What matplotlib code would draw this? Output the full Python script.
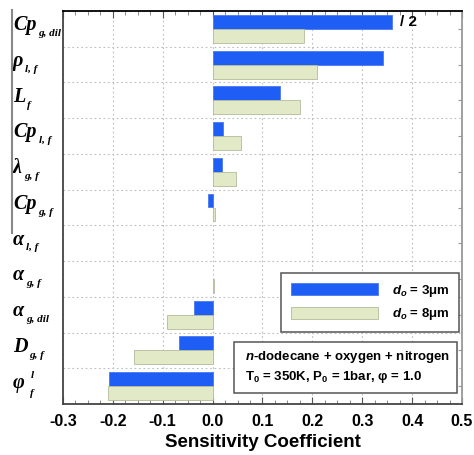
import matplotlib.pyplot as plt
import numpy as np
from matplotlib.lines import Line2D
from matplotlib.patches import Rectangle
import matplotlib.transforms as mtransforms

plt.rcParams['font.family'] = ['Liberation Sans', 'DejaVu Sans']
plt.rcParams['font.weight'] = 'bold'
plt.rcParams['mathtext.fontset'] = 'custom'
plt.rcParams['mathtext.rm'] = 'Liberation Sans:bold'
plt.rcParams['mathtext.it'] = 'Liberation Sans:italic:bold'
plt.rcParams['mathtext.bf'] = 'Liberation Sans:bold'

# parameter symbol, subscript, superscript
symbols = ['Cp', 'ρ', 'L', 'Cp', 'λ', 'Cp', 'α', 'α', 'α', 'D', 'φ']
subscripts = ['g, dil', 'l, f', 'f', 'l, f', 'g, f', 'g, f',
              'l, f', 'g, f', 'g, dil', 'g, f', 'f']
superscripts = ['', '', '', '', '', '', '', '', '', '', 'l']

# sensitivity coefficients (first blue bar is drawn halved)
sens_3um = [0.359, 0.341, 0.136, 0.021, 0.019, -0.009,
            0.0, 0.0, -0.038, -0.068, -0.208]
sens_8um = [0.183, 0.209, 0.175, 0.057, 0.047, 0.005,
            0.0, 0.002, -0.092, -0.158, -0.210]

blue = '#1f5ef5'
green = '#e1e9c6'

fig = plt.figure(figsize=(4.74, 4.55), dpi=100)
ax = fig.add_axes([63 / 474, 51 / 455, 399 / 474, 393 / 455])

y = np.arange(len(symbols))
h = 0.39
b1 = ax.barh(y - 0.195, sens_3um, height=h, color=blue,
             edgecolor='#4a7af0', linewidth=0.6, zorder=3,
             label=r'$d_o$ = 3μm')
b2 = ax.barh(y + 0.195, sens_8um, height=h, color=green,
             edgecolor='#b4bb9a', linewidth=0.6, zorder=3,
             label=r'$d_o$ = 8μm')
# no outline for bars of zero length
for bars, vals in ((b1, sens_3um), (b2, sens_8um)):
    for patch, v in zip(bars.patches, vals):
        if v == 0:
            patch.set_linewidth(0)

ax.set_xlim(-0.3, 0.5)
ax.set_ylim(len(symbols) - 0.5, -0.5)

ax.set_xticks(np.arange(-0.3, 0.51, 0.1))
ax.set_xticklabels(['%.1f' % v for v in np.arange(-0.3, 0.51, 0.1)])
ax.set_xticks(np.arange(-0.3, 0.501, 0.025), minor=True)
ax.tick_params(axis='x', which='both', direction='in', top=True,
               labelsize=11.5, pad=7)
ax.tick_params(axis='x', which='major', length=5, width=0.8, color='#555555')
ax.tick_params(axis='x', which='minor', length=3, width=0.6, color='#777777')

ax.set_yticks(y)
ax.set_yticks(np.arange(-0.5, len(symbols), 1.0), minor=True)
ax.tick_params(axis='y', which='major', direction='in', left=False,
               right=True, labelleft=False, length=3, color='#999999')
ax.tick_params(axis='y', which='minor', left=False, right=False)

grid_kw = dict(color='#bdbdbd', linestyle=(0, (1.5, 2.5)), linewidth=0.8)
ax.grid(axis='x', which='major', **grid_kw)
ax.grid(axis='y', which='minor', **grid_kw)
ax.set_axisbelow(True)

ax.spines['top'].set_color('black')
ax.spines['left'].set_color('#444444')
ax.spines['bottom'].set_color('#444444')
ax.spines['right'].set_color('#999999')
for s in ax.spines.values():
    s.set_linewidth(1.3)

ax.set_xlabel('Sensitivity Coefficient', fontsize=13.5, fontweight='bold',
              labelpad=4)

# "/ 2" mark next to the halved bar
ax.annotate('/ 2', xy=(sens_3um[0], y[0] - 0.195), xytext=(6, 0),
            textcoords='offset points', va='center', ha='left',
            fontsize=11, fontweight='bold')

# row labels: serif bold italic symbols with sub/superscripts
trans = mtransforms.blended_transform_factory(fig.transFigure, ax.transData)
serif = dict(family=['Liberation Serif', 'DejaVu Serif'], style='italic',
             weight='bold')
for i, (sym, sub, sup) in enumerate(zip(symbols, subscripts, superscripts)):
    main = ax.text(13 / 474, i - 0.1, sym, transform=trans, fontsize=14.5,
                   ha='left', va='center', **serif)
    if sup:
        ax.annotate(sup, xy=(1, 0.5), xycoords=main, xytext=(4, 5),
                    textcoords='offset points', fontsize=8,
                    ha='left', va='center', **serif)
        ax.annotate(sub, xy=(1, 0.5), xycoords=main, xytext=(4, -8),
                    textcoords='offset points', fontsize=8,
                    ha='left', va='center', **serif)
    else:
        ax.annotate(sub, xy=(1, 0.5), xycoords=main, xytext=(1.5, -6),
                    textcoords='offset points', fontsize=8,
                    ha='left', va='center', **serif)

leg = ax.legend(handles=[b1, b2], loc='upper right',
                bbox_to_anchor=(459 / 474, (455 - 273) / 455),
                bbox_transform=fig.transFigure, borderaxespad=0,
                fontsize=9.5, handlelength=6.6, handleheight=1.0,
                handletextpad=1.0, labelspacing=0.55, borderpad=0.75,
                fancybox=False, framealpha=1, edgecolor='#555555')
leg.get_frame().set_linewidth(1.1)

# operating conditions box
box = Rectangle((234 / 474, (455 - 393) / 455), 223 / 474, 51 / 455,
                transform=fig.transFigure, facecolor='white',
                edgecolor='#555555', linewidth=1.1, zorder=5)
fig.add_artist(box)
fig.text(245 / 474, (455 - 357) / 455,
         r'$n$-dodecane + oxygen + nitrogen', fontsize=9.5,
         fontweight='bold', va='center', ha='left', zorder=6)
fig.text(245 / 474, (455 - 377) / 455,
         r'T$_0$ = 350K, P$_0$ = 1bar, φ = 1.0', fontsize=9.5,
         fontweight='bold', va='center', ha='left', zorder=6)

fig.add_artist(Line2D([12 / 474, 12 / 474], [(455 - 10) / 455, (455 - 233) / 455],
                      transform=fig.transFigure, color='#888888', linewidth=1.5))

fig.savefig('out.png', dpi=100)
